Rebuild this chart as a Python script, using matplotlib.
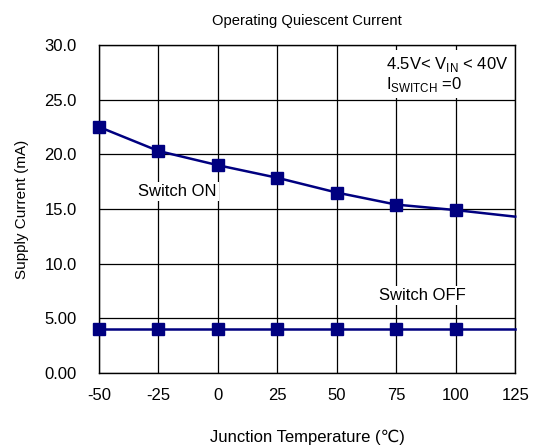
import matplotlib.pyplot as plt

plt.rcParams['font.family'] = ['Liberation Sans', 'DejaVu Sans']
plt.rcParams['mathtext.fontset'] = 'custom'
plt.rcParams['mathtext.rm'] = 'Liberation Sans'
plt.rcParams['axes.unicode_minus'] = False

temps = [-50, -25, 0, 25, 50, 75, 100, 125]
on_current = [22.5, 20.3, 19.0, 17.85, 16.5, 15.4, 14.9, 14.3]
off_current = [4.0, 4.0, 4.0, 4.0, 4.0, 4.0, 4.0, 4.0]
yticks = [0, 5, 10, 15, 20, 25, 30]
ylabels = ['0.00', '5.00', '10.0', '15.0', '20.0', '25.0', '30.0']

fig = plt.figure(figsize=(5.35, 4.48), dpi=100)
ax = fig.add_axes([0.185, 0.167, 0.778, 0.733])

navy = '#000080'
for ys in (on_current, off_current):
    ax.plot(temps, ys, color=navy, lw=1.8, marker='s', ms=9,
            markevery=slice(0, 7), clip_on=False, zorder=3)

ax.set_xlim(-50, 125)
ax.set_ylim(0, 30)
ax.set_xticks(temps)
ax.set_yticks(yticks)
ax.set_yticklabels(ylabels)
ax.tick_params(length=0, labelsize=12)
ax.tick_params(axis='y', pad=16)
ax.tick_params(axis='x', pad=11)
ax.grid(True, color='black', lw=0.9)
for s in ax.spines.values():
    s.set_linewidth(1.0)

box = dict(facecolor='white', edgecolor='none', pad=1.5)
ax.text(-17, 16.6, 'Switch ON', ha='center', va='center', fontsize=12, bbox=box, zorder=2)
ax.text(86, 7.1, 'Switch OFF', ha='center', va='center', fontsize=12, bbox=box, zorder=2)
ax.text(70.5, 27.3,
        '4.5V< V$_{\\mathrm{IN}}$ < 40V\nI$_{\\mathrm{SWITCH}}$ =0',
        ha='left', va='center', fontsize=12, linespacing=1.1,
        bbox=dict(facecolor='white', edgecolor='none', pad=3), zorder=2)

ax.set_title('Operating Quiescent Current', fontsize=10.6, pad=14)
ax.set_xlabel('Junction Temperature (℃)', fontsize=12, labelpad=19)
ax.set_ylabel('Supply Current (mA)', fontsize=11, labelpad=11)

fig.savefig('out.png', dpi=100)
